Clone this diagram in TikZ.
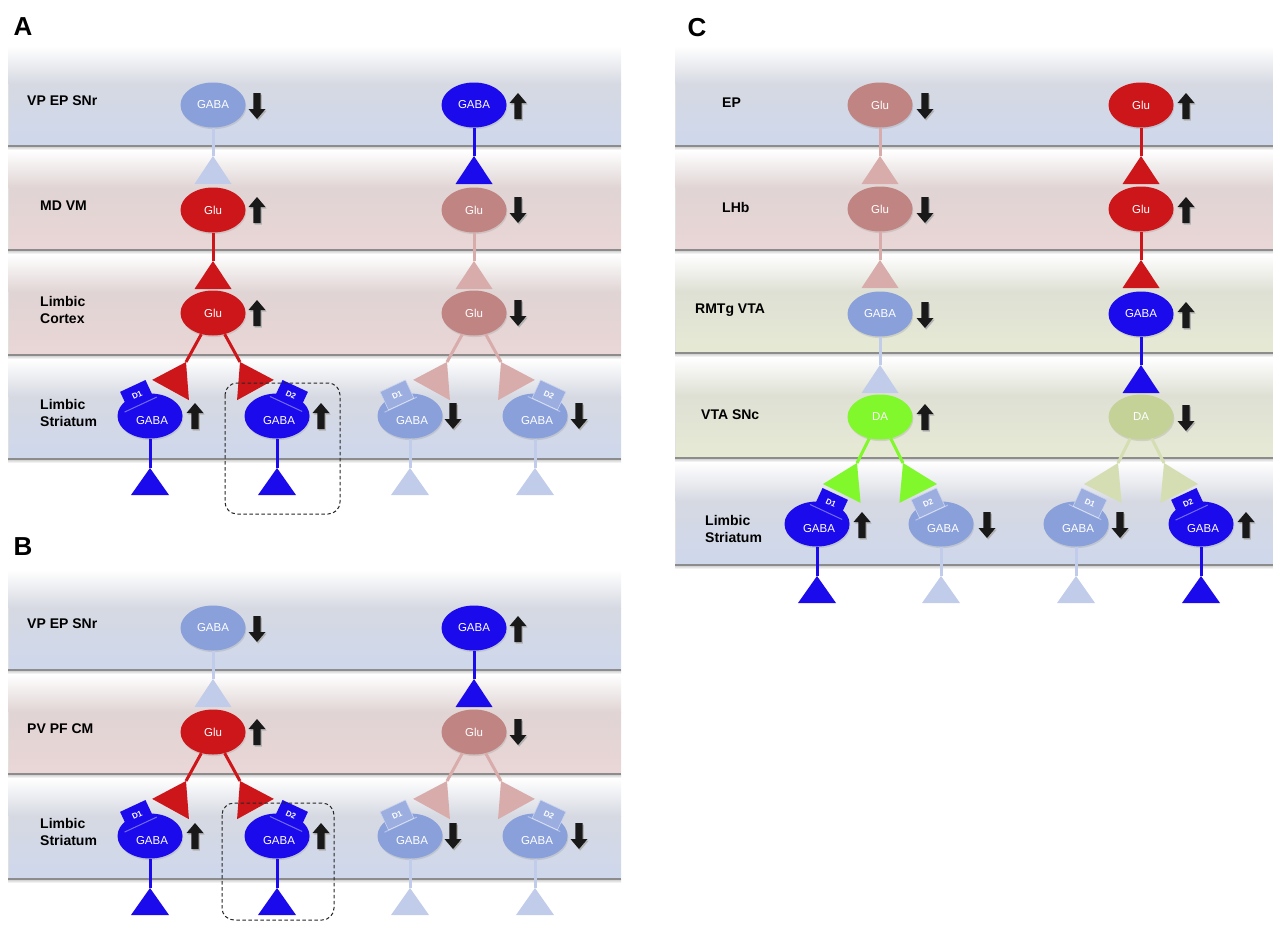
\documentclass[tikz,border=0pt]{standalone}
\usepackage{fontspec}
\setmainfont{Liberation Sans}
\usetikzlibrary{calc,shapes.geometric,shadows}

\definecolor{gabaOn}{RGB}{26,10,236}
\definecolor{gabaOff}{RGB}{138,160,218}
\definecolor{gabaOffLine}{RGB}{192,204,234}
\definecolor{gluOn}{RGB}{204,22,26}
\definecolor{gluOff}{RGB}{192,132,130}
\definecolor{gluOffLine}{RGB}{216,172,170}
\definecolor{daOn}{RGB}{128,248,44}
\definecolor{daOff}{RGB}{196,210,152}
\definecolor{daOffLine}{RGB}{212,222,178}
\definecolor{bandBlueMid}{RGB}{214,217,226}
\definecolor{bandBlueLow}{RGB}{206,215,236}
\definecolor{bandPinkMid}{RGB}{224,212,212}
\definecolor{bandPinkLow}{RGB}{234,214,214}
\definecolor{bandGreenMid}{RGB}{222,224,212}
\definecolor{bandGreenLow}{RGB}{230,234,212}

% horizontal region band: left, top, right, bottom, mid colour, low colour
\newcommand\band[6]{%
  \pgfmathsetmacro\bandsplit{#2+0.38*(#4-#2)}
  \shade[top color=white, bottom color=#5] (#1,#2) rectangle (#3,\bandsplit);
  \shade[top color=#5, bottom color=#6] (#1,\bandsplit) rectangle (#3,#4);
  \shade[top color=black!22, bottom color=white] (#1,#4) rectangle (#3,#4+4);
  \draw[black!12, line width=0.8pt] (#1,\bandsplit) -- (#1,#4);
  \draw[black!45, line width=1.5pt] (#1,#4) -- (#3,#4);
}

% synaptic terminal: cell, apex, colour, height, half width
\newcommand\term[5]{%
  \path ($(#2)!-#4pt!(#1)$) coordinate (tb);
  \fill[#3] (#2) -- ($(tb)!#5pt!90:(#2)$) -- ($(tb)!#5pt!-90:(#2)$) -- cycle;
}
% axon from a cell to its terminal
\newcommand\link[5]{%
  \draw[stem,#3] (#1) -- (#2);
  \term{#1}{#2}{#3}{#4}{#5}
}
% striatal GABA cell with its dopamine receptor:
% name, x, y, cell style, receptor style, receptor label, rotation, receptor dx
\newcommand\dcell[8]{%
  \node[#4] (#1) at (#2,#3) {};
  \node[#5, rotate=#7] (#1r) at ($(#1)+(#8,-21)$) {#6};
  \draw[white, opacity=.4, line width=1pt]
    ($(#1r.south west)!-.15!(#1r.south east)$) -- ($(#1r.south west)!1.1!(#1r.south east)$);
  \node[celltext] (#1t) at ($(#1)+(2,5)$) {GABA};
}

\tikzset{
  arrowup/.pic={
    \fill[black!30, shift={(1.2,1.6)}] (0,-13) -- (8.5,-3) -- (3.6,-3) -- (3.6,13) -- (-3.6,13) -- (-3.6,-3) -- (-8.5,-3) -- cycle;
    \fill[black!90] (0,-13) -- (8.5,-3) -- (3.6,-3) -- (3.6,13) -- (-3.6,13) -- (-3.6,-3) -- (-8.5,-3) -- cycle;
  },
  arrowdown/.pic={
    \fill[black!30, shift={(1.2,1.6)}] (0,13) -- (8.5,3) -- (3.6,3) -- (3.6,-13) -- (-3.6,-13) -- (-3.6,3) -- (-8.5,3) -- cycle;
    \fill[black!90] (0,13) -- (8.5,3) -- (3.6,3) -- (3.6,-13) -- (-3.6,-13) -- (-3.6,3) -- (-8.5,3) -- cycle;
  },
}

\begin{document}
\begin{tikzpicture}[x=1pt,y=-1pt,
  cell/.style={ellipse, minimum width=65pt, minimum height=45pt, inner sep=0pt, text=white,
    font=\fontsize{11.5}{12}\selectfont,
    drop shadow={opacity=0.22, shadow xshift=0.8pt, shadow yshift=-1.6pt}},
  gabaon/.style={cell, fill=gabaOn},
  gabaoff/.style={cell, fill=gabaOff},
  gluon/.style={cell, fill=gluOn},
  gluoff/.style={cell, fill=gluOff},
  daon/.style={cell, fill=daOn},
  daoff/.style={cell, fill=daOff},
  celltext/.style={text=white, font=\fontsize{11.5}{12}\selectfont, inner sep=0pt},
  rcpt/.style={rectangle, minimum width=28pt, minimum height=20pt, inner sep=0pt, text=white,
    font=\bfseries\fontsize{8}{8}\selectfont},
  rcon/.style={rcpt, fill=gabaOn},
  rcoff/.style={rcpt, fill=gabaOff!85!white, draw=white!55!gabaOff, line width=0.6pt},
  stem/.style={line width=3pt},
  lab/.style={anchor=west, align=left, font=\bfseries\fontsize{14}{17}\selectfont, inner sep=0pt},
  letter/.style={font=\bfseries\fontsize{26}{26}\selectfont, inner sep=0pt},
  zone/.style={dash pattern=on 3.5pt off 2.5pt, line width=1pt, rounded corners=12pt, black!85},
]
\useasboundingbox (0,0) rectangle (1273,924);

% ---------------- panel A ----------------
\band{8}{46}{621}{146}{bandBlueMid}{bandBlueLow}
\band{8}{150}{621}{250}{bandPinkMid}{bandPinkLow}
\band{8}{254}{621}{355}{bandPinkMid}{bandPinkLow}
\band{8}{359}{621}{459}{bandBlueMid}{bandBlueLow}

\node[letter] (pA) at (23,27) {A};
\node[lab] (la1) at (27,101) {VP EP SNr};
\node[lab] (la2) at (40,206) {MD VM};
\node[lab] (la3) at (40,310) {Limbic\\Cortex};
\node[lab] (la4) at (40,413) {Limbic\\Striatum};

% left column
\node[gabaoff] (a1s) at (213,105) {GABA};
\node[gluon] (a1m) at (213,210) {Glu};
\node[gluon] (a1c) at (213,313) {Glu};
\dcell{a1d}{150}{416}{gabaon}{rcon}{D1}{25}{-13}
\dcell{a1e}{277}{416}{gabaon}{rcon}{D2}{-25}{14}
\coordinate (a1sT) at (213,156);
\coordinate (a1mT) at (213,261);
\coordinate (a1cL) at (186,362);
\coordinate (a1cR) at (240,362);
\coordinate (a1dT) at (150,468);
\coordinate (a1eT) at (277,468);
\link{a1s}{a1sT}{gabaOffLine}{28}{18.5}
\link{a1m}{a1mT}{gluOn}{28}{18.5}
\link{a1c}{a1cL}{gluOn}{32}{21}
\link{a1c}{a1cR}{gluOn}{32}{21}
\link{a1d}{a1dT}{gabaOn}{27}{19}
\link{a1e}{a1eT}{gabaOn}{27}{19}
\path ($(a1s)+(44,1)$) pic {arrowdown};
\path ($(a1m)+(44,0)$) pic {arrowup};
\path ($(a1c)+(44,0)$) pic {arrowup};
\path ($(a1d)+(45,0)$) pic {arrowup};
\path ($(a1e)+(44,0)$) pic {arrowup};
\draw[zone] (225,383) rectangle (340,514);

% right column
\node[gabaon] (a2s) at (474,105) {GABA};
\node[gluoff] (a2m) at (474,210) {Glu};
\node[gluoff] (a2c) at (474,313) {Glu};
\dcell{a2d}{410}{416}{gabaoff}{rcoff}{D1}{25}{-13}
\dcell{a2e}{535}{416}{gabaoff}{rcoff}{D2}{-25}{14}
\coordinate (a2sT) at (474,156);
\coordinate (a2mT) at (474,261);
\coordinate (a2cL) at (447,362);
\coordinate (a2cR) at (501,362);
\coordinate (a2dT) at (410,468);
\coordinate (a2eT) at (535,468);
\link{a2s}{a2sT}{gabaOn}{28}{18.5}
\link{a2m}{a2mT}{gluOffLine}{28}{18.5}
\link{a2c}{a2cL}{gluOffLine}{32}{21}
\link{a2c}{a2cR}{gluOffLine}{32}{21}
\link{a2d}{a2dT}{gabaOffLine}{27}{19}
\link{a2e}{a2eT}{gabaOffLine}{27}{19}
\path ($(a2s)+(44,1)$) pic {arrowup};
\path ($(a2m)+(44,0)$) pic {arrowdown};
\path ($(a2c)+(44,0)$) pic {arrowdown};
\path ($(a2d)+(43,0)$) pic {arrowdown};
\path ($(a2e)+(44,0)$) pic {arrowdown};

% ---------------- panel B ----------------
\band{8}{570}{621}{670}{bandBlueMid}{bandBlueLow}
\band{8}{674}{621}{774}{bandPinkMid}{bandPinkLow}
\band{8}{778}{621}{879}{bandBlueMid}{bandBlueLow}

\node[letter] (pB) at (23,547) {B};
\node[lab] (lb1) at (27,624) {VP EP SNr};
\node[lab] (lb2) at (27,729) {PV PF CM};
\node[lab] (lb3) at (40,832) {Limbic\\Striatum};

\node[gabaoff] (b1s) at (213,628) {GABA};
\node[gluon] (b1m) at (213,732) {Glu};
\dcell{b1d}{150}{836}{gabaon}{rcon}{D1}{25}{-13}
\dcell{b1e}{277}{836}{gabaon}{rcon}{D2}{-25}{14}
\coordinate (b1sT) at (213,679);
\coordinate (b1mL) at (186,781);
\coordinate (b1mR) at (240,781);
\coordinate (b1dT) at (150,888);
\coordinate (b1eT) at (277,888);
\link{b1s}{b1sT}{gabaOffLine}{28}{18.5}
\link{b1m}{b1mL}{gluOn}{32}{21}
\link{b1m}{b1mR}{gluOn}{32}{21}
\link{b1d}{b1dT}{gabaOn}{27}{19}
\link{b1e}{b1eT}{gabaOn}{27}{19}
\path ($(b1s)+(44,1)$) pic {arrowdown};
\path ($(b1m)+(44,0)$) pic {arrowup};
\path ($(b1d)+(45,0)$) pic {arrowup};
\path ($(b1e)+(44,0)$) pic {arrowup};
\draw[zone] (222,803) rectangle (334,920);

\node[gabaon] (b2s) at (474,628) {GABA};
\node[gluoff] (b2m) at (474,732) {Glu};
\dcell{b2d}{410}{836}{gabaoff}{rcoff}{D1}{25}{-13}
\dcell{b2e}{535}{836}{gabaoff}{rcoff}{D2}{-25}{14}
\coordinate (b2sT) at (474,679);
\coordinate (b2mL) at (447,781);
\coordinate (b2mR) at (501,781);
\coordinate (b2dT) at (410,888);
\coordinate (b2eT) at (535,888);
\link{b2s}{b2sT}{gabaOn}{28}{18.5}
\link{b2m}{b2mL}{gluOffLine}{32}{21}
\link{b2m}{b2mR}{gluOffLine}{32}{21}
\link{b2d}{b2dT}{gabaOffLine}{27}{19}
\link{b2e}{b2eT}{gabaOffLine}{27}{19}
\path ($(b2s)+(44,1)$) pic {arrowup};
\path ($(b2m)+(44,0)$) pic {arrowdown};
\path ($(b2d)+(43,0)$) pic {arrowdown};
\path ($(b2e)+(44,0)$) pic {arrowdown};

% ---------------- panel C ----------------
\band{675}{46}{1273}{146}{bandBlueMid}{bandBlueLow}
\band{675}{150}{1273}{250}{bandPinkMid}{bandPinkLow}
\band{675}{254}{1273}{353}{bandGreenMid}{bandGreenLow}
\band{675}{357}{1273}{458}{bandGreenMid}{bandGreenLow}
\band{675}{462}{1273}{565}{bandBlueMid}{bandBlueLow}

\node[letter] (pC) at (697,28) {C};
\node[lab] (lc1) at (722,103) {EP};
\node[lab] (lc2) at (722,207) {LHb};
\node[lab] (lc3) at (695,310) {RMTg VTA};
\node[lab] (lc4) at (701,415) {VTA SNc};
\node[lab] (lc5) at (705,529) {Limbic\\Striatum};

% left column
\node[gluoff] (c1e) at (880,105) {Glu};
\node[gluoff] (c1l) at (880,209) {Glu};
\node[gabaoff] (c1r) at (880,314) {GABA};
\node[daon] (c1v) at (880,417) {DA};
\dcell{c1d}{817}{524}{gabaon}{rcon}{D1}{-25}{14}
\dcell{c1f}{941}{524}{gabaoff}{rcoff}{D2}{25}{-13}
\coordinate (c1eT) at (880,156);
\coordinate (c1lT) at (880,260);
\coordinate (c1rT) at (880,365);
\coordinate (c1vL) at (857,463);
\coordinate (c1vR) at (903,463);
\coordinate (c1dT) at (817,576);
\coordinate (c1fT) at (941,576);
\link{c1e}{c1eT}{gluOffLine}{28}{18.5}
\link{c1l}{c1lT}{gluOffLine}{28}{18.5}
\link{c1r}{c1rT}{gabaOffLine}{28}{18.5}
\link{c1v}{c1vL}{daOn}{34}{21}
\link{c1v}{c1vR}{daOn}{34}{21}
\link{c1d}{c1dT}{gabaOn}{27}{19}
\link{c1f}{c1fT}{gabaOffLine}{27}{19}
\path ($(c1e)+(45,1)$) pic {arrowdown};
\path ($(c1l)+(45,1)$) pic {arrowdown};
\path ($(c1r)+(45,1)$) pic {arrowdown};
\path ($(c1v)+(45,0)$) pic {arrowup};
\path ($(c1d)+(45,1)$) pic {arrowup};
\path ($(c1f)+(46,1)$) pic {arrowdown};

% right column
\node[gluon] (c2e) at (1141,105) {Glu};
\node[gluon] (c2l) at (1141,209) {Glu};
\node[gabaon] (c2r) at (1141,314) {GABA};
\node[daoff] (c2v) at (1141,417) {DA};
\dcell{c2d}{1076}{524}{gabaoff}{rcoff}{D1}{-25}{14}
\dcell{c2f}{1201}{524}{gabaon}{rcon}{D2}{25}{-13}
\coordinate (c2eT) at (1141,156);
\coordinate (c2lT) at (1141,260);
\coordinate (c2rT) at (1141,365);
\coordinate (c2vL) at (1118,463);
\coordinate (c2vR) at (1164,463);
\coordinate (c2dT) at (1076,576);
\coordinate (c2fT) at (1201,576);
\link{c2e}{c2eT}{gluOn}{28}{18.5}
\link{c2l}{c2lT}{gluOn}{28}{18.5}
\link{c2r}{c2rT}{gabaOn}{28}{18.5}
\link{c2v}{c2vL}{daOffLine}{34}{21}
\link{c2v}{c2vR}{daOffLine}{34}{21}
\link{c2d}{c2dT}{gabaOffLine}{27}{19}
\link{c2f}{c2fT}{gabaOn}{27}{19}
\path ($(c2e)+(45,1)$) pic {arrowup};
\path ($(c2l)+(45,1)$) pic {arrowup};
\path ($(c2r)+(45,1)$) pic {arrowup};
\path ($(c2v)+(45,1)$) pic {arrowdown};
\path ($(c2d)+(44,1)$) pic {arrowdown};
\path ($(c2f)+(45,1)$) pic {arrowup};
\end{tikzpicture}
\end{document}
